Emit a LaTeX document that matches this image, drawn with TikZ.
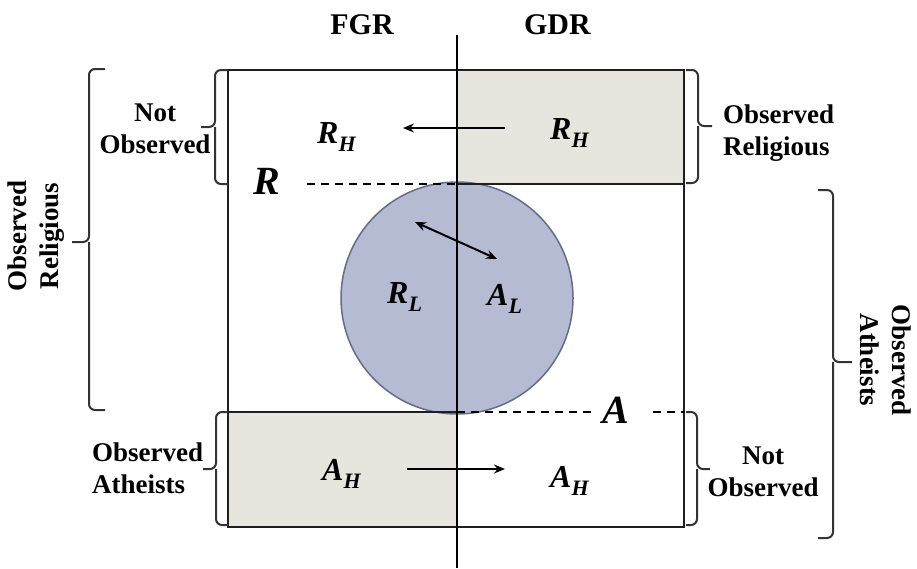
\documentclass[tikz,border=0pt]{standalone}
\usepackage{fontspec}
\setmainfont{Liberation Serif}
\usepackage{tikz}
\usetikzlibrary{arrows.meta, positioning}
\usepackage{xcolor}
\definecolor{boxgrey}{RGB}{230,230,223}
\definecolor{poolblue}{RGB}{180,187,211}
\definecolor{pooledge}{RGB}{100,108,140}
\newcommand{\grp}[2]{{\fontsize{32}{32}\selectfont\bfseries\itshape #1\raisebox{-8pt}{\fontsize{22}{22}\selectfont #2}}}
% bracket: end x, body x, tip x, top y, middle y, bottom y
\newcommand{\bkt}[6]{\draw[bracket] (#1,#4) -| (#2,#5) -- (#3,#5) (#2,#5) |- (#1,#6);}

\begin{document}
\begin{tikzpicture}[x=1pt, y=-1pt,
    head/.style={font=\fontsize{30}{30}\selectfont\bfseries, inner sep=0pt},
    side/.style={font=\fontsize{27}{32}\selectfont\bfseries, inner sep=0pt},
    grp/.style={anchor=base west, inner sep=0pt},
    big/.style={anchor=base west, inner sep=0pt, font=\fontsize{40}{40}\selectfont\bfseries\itshape},
    frame/.style={line width=2pt, draw=black!88},
    dashline/.style={line width=1.8pt, dash pattern=on 8pt off 6pt},
    arrow/.style={-{Stealth[length=11pt, width=9pt]}, line width=2pt},
    bracket/.style={line width=2pt, draw=black!80, rounded corners=6pt}
]
    \useasboundingbox (0,0) rectangle (917,568);

    % Grid points
    \coordinate (nw) at (228,70);
    \coordinate (se) at (684,527);
    \coordinate (top) at (457,70);
    \coordinate (rline) at (457,184);
    \coordinate (aline) at (457,412);

    % Shaded cells
    \fill[boxgrey] (top) rectangle (684,184);
    \fill[boxgrey] (228,412) rectangle (457,527);

    % Pool of the low types
    \node[circle, fill=poolblue, draw=pooledge, line width=1.5pt, minimum size=232pt, inner sep=0pt] (pool) at (457,298) {};

    % Frame
    \draw[frame] (nw) rectangle (se);
    \draw[frame] (rline) -- (684,184);
    \draw[frame] (228,412) -- (aline);
    \draw[line width=2pt] (457,35) -- (457,568);

    % Thresholds
    \node[big] (rcut) at (253,194) {R};
    \node[big] (acut) at (602,423) {A};
    \coordinate (rdash) at (307,184);
    \coordinate (adash) at (592,412);
    \coordinate (adash2) at (653,412);
    \draw[dashline] (rdash) -- (rline);
    \draw[dashline] (aline) -- (adash);
    \draw[dashline] (adash2) -- (684,412);

    % Headings
    \node[head] (fgr) at (362,25) {FGR};
    \node[head, right=130pt of fgr] (gdr) {GDR};

    % Groups
    \node[grp] (rhl) at (317,143) {\grp{R}{H}};
    \node[grp] (rhr) at (550,139) {\grp{R}{H}};
    \node[grp] (rl) at (387,303) {\grp{R}{L}};
    \node[grp] (al) at (487,305) {\grp{A}{L}};
    \node[grp] (ahl) at (322,480) {\grp{A}{H}};
    \node[grp] (ahr) at (550,487) {\grp{A}{H}};

    % Moves
    \coordinate (mvr1) at (505,128);
    \coordinate (mvr2) at (403,128);
    \coordinate (mva1) at (407,469);
    \coordinate (mva2) at (505,469);
    \coordinate (sw1) at (415,222);
    \coordinate (sw2) at (497,259);
    \draw[arrow] (mvr1) -- (mvr2);
    \draw[arrow] (mva1) -- (mva2);
    \draw[arrow, {Stealth[length=11pt, width=9pt]}-{Stealth[length=11pt, width=9pt]}] (sw1) -- (sw2);

    % Brackets
    \bkt{228}{215}{201}{70}{127}{184}
    \bkt{105}{89}{72}{69}{242}{410}
    \bkt{686}{698}{712}{70}{126}{183}
    \bkt{818}{833}{852}{190}{362}{538}
    \bkt{228}{216}{203}{412}{469}{525}
    \bkt{686}{697}{710}{412}{469}{525}

    % Bracket labels
    \node[side, align=center] (nol) at (155,129) {Not\\Observed};
    \node[side, align=left, anchor=west] (orr) at (723,133) {Observed\\Religious};
    \node[side, align=left, anchor=west] (oal) at (92,468) {Observed\\Atheists};
    \node[side, align=center] (nor) at (763,472) {Not\\Observed};
    \node[side, align=center, rotate=90] (orl) at (36,236) {Observed\\Religious};
    \node[side, align=center, rotate=-90] (oar) at (886,360) {Observed\\Atheists};
\end{tikzpicture}
\end{document}
